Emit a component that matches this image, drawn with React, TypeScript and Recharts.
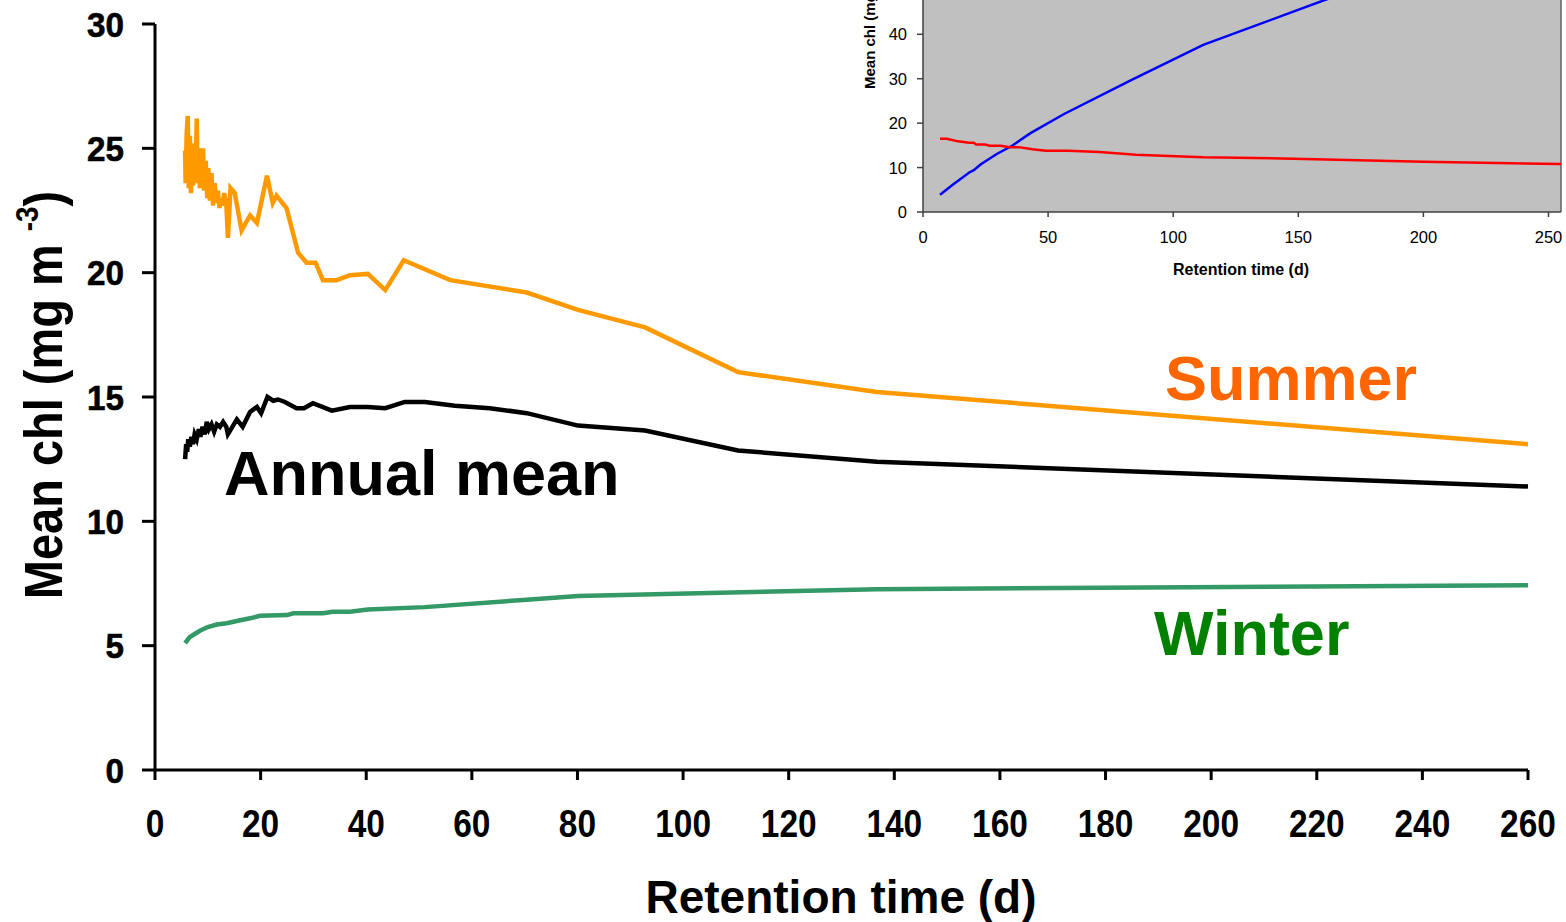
import { CartesianGrid, Line, LineChart, ReferenceLine, XAxis, YAxis } from 'recharts';

// main chart: mean chl vs retention time (x = days, y = mg m-3)
const summer = [
  [5.7, 24.9], [5.8, 23.6], [6.0, 25.6], [6.2, 26.3], [6.4, 23.4], [6.6, 25.5], [6.8, 23.2],
  [7.0, 24.6], [7.2, 23.5], [7.5, 25.2], [7.7, 24.0], [7.9, 26.2], [8.1, 23.6], [8.3, 25.0],
  [8.5, 23.4], [8.7, 24.8], [8.9, 23.8], [9.1, 25.0], [9.3, 23.3], [9.6, 24.5], [9.9, 23.0],
  [10.1, 24.2], [10.4, 22.9], [10.7, 24.0], [11.0, 22.7], [11.3, 23.6], [11.6, 22.8], [11.9, 23.3],
  [12.2, 22.6], [12.5, 23.0], [12.8, 22.7], [13.1, 23.2], [13.5, 22.8], [13.8, 21.4], [14.3, 23.4],
  [15.1, 23.2], [16.4, 21.7], [18.0, 22.3], [19.3, 22.0], [21.2, 23.9], [22.3, 22.8], [23.0, 23.1],
  [24.9, 22.6], [27.1, 20.8], [28.7, 20.4], [30.4, 20.4], [31.8, 19.7], [34.4, 19.7], [36.9, 19.9],
  [40.3, 19.95], [43.6, 19.3], [47.1, 20.5], [55.9, 19.7], [70.4, 19.2], [80.1, 18.5], [92.8, 17.8],
  [110.4, 16.0], [136.7, 15.2], [260, 13.1],
].map(([x, y]) => ({ x, y }));

const annual = [
  [5.7, 12.5], [5.9, 13.1], [6.1, 12.8], [6.3, 13.3], [6.6, 13.0], [6.9, 13.4], [7.2, 13.1],
  [7.5, 13.5], [7.9, 13.3], [8.3, 13.7], [8.6, 13.4], [9.0, 13.8], [9.4, 13.5], [9.8, 14.0],
  [10.2, 13.7], [10.7, 13.9], [11.2, 13.6], [11.7, 13.9], [12.3, 13.8], [12.9, 14.0], [13.5, 13.8],
  [13.8, 13.5], [15.5, 14.1], [16.6, 13.8], [18.0, 14.4], [19.3, 14.6], [20.1, 14.35], [21.3, 15.0],
  [22.4, 14.85], [23.3, 14.9], [24.6, 14.8], [26.8, 14.55], [28.2, 14.55], [29.9, 14.75],
  [33.5, 14.45], [36.9, 14.6], [40.3, 14.6], [43.6, 14.55], [47.3, 14.8], [51.1, 14.8],
  [56.8, 14.65], [63.4, 14.55], [70.4, 14.35], [80.1, 13.85], [92.8, 13.65], [110.4, 12.85],
  [136.7, 12.4], [260, 11.4],
].map(([x, y]) => ({ x, y }));

const winter = [
  [5.7, 5.1], [6.6, 5.35], [8.5, 5.6], [10.0, 5.75], [11.7, 5.85], [13.6, 5.9], [15.7, 6.0],
  [18.0, 6.1], [19.9, 6.2], [25.0, 6.23], [26.2, 6.3], [31.8, 6.3], [33.7, 6.36], [36.9, 6.36],
  [40.3, 6.45], [51.1, 6.55], [70.4, 6.85], [80.1, 7.0], [136.7, 7.27], [260, 7.43],
].map(([x, y]) => ({ x, y }));

// inset (top cut off in the original)
const insetBlue = [
  [6.8, 3.9], [12, 6.2], [18.5, 8.9], [20.3, 9.4], [23, 10.7], [29.3, 13.0], [35.6, 14.9],
  [42.8, 17.7], [56.2, 22.0], [83.2, 29.7], [112, 37.6], [160.5, 47.7], [200, 55], [255, 64],
].map(([x, y]) => ({ x, y }));

const insetRed = [
  [6.8, 16.5], [9.5, 16.5], [14, 15.9], [18.5, 15.6], [20.3, 15.6], [21.2, 15.2], [24.8, 15.2],
  [26.6, 14.9], [31.1, 14.9], [34.7, 14.6], [38.3, 14.6], [43.7, 14.1], [49, 13.8], [58, 13.8],
  [70.6, 13.5], [85, 12.9], [112, 12.3], [148, 12.0], [200, 11.3], [255, 10.8],
].map(([x, y]) => ({ x, y }));

const xTicks = [0, 20, 40, 60, 80, 100, 120, 140, 160, 180, 200, 220, 240, 260];
const yTicks = [0, 5, 10, 15, 20, 25, 30];
const insetXTicks = [0, 50, 100, 150, 200, 250];
const insetYTicks = [0, 10, 20, 30, 40];

const SANS = '"Liberation Sans", Arial, sans-serif';

function MainYTick({ x, y, payload }: any) {
  return (
    <text transform={`translate(${x},${y}) scale(0.95,1)`} textAnchor="end" dy="0.36em"
      fontFamily={SANS} fontWeight="bold" fontSize={35} fill="#000" stroke="#000" strokeWidth={0.6}>
      {payload.value}
    </text>
  );
}

function MainXTick({ x, y, payload }: any) {
  return (
    <text transform={`translate(${x},${y}) scale(0.88,1)`} textAnchor="middle" dy="0.71em"
      fontFamily={SANS} fontWeight="bold" fontSize={38} fill="#000">
      {payload.value}
    </text>
  );
}

function InsetTick({ x, y, payload, anchor }: any) {
  return (
    <text x={x} y={y} textAnchor={anchor} dy={anchor === 'middle' ? '0.71em' : '0.36em'}
      fontFamily={SANS} fontSize={16.5} fill="#000">
      {payload.value}
    </text>
  );
}

export default function App() {
  const axis = { stroke: '#000', strokeWidth: 3 };
  const insetAxis = { stroke: '#404040', strokeWidth: 1.5 };
  return (
    <div style={{ position: 'absolute', left: 0, top: 0, width: 1566, height: 922, background: '#fff', overflow: 'hidden' }}>
      <LineChart width={1566} height={922} margin={{ top: 24, right: 38, bottom: 0, left: 0 }}>
        <XAxis type="number" dataKey="x" domain={[0, 260]} ticks={xTicks} height={152}
          axisLine={axis} tickLine={axis} tickSize={10} tickMargin={30} tick={<MainXTick />} />
        <YAxis type="number" dataKey="y" domain={[0, 30]} ticks={yTicks} width={155}
          axisLine={axis} tickLine={axis} tickSize={13} tickMargin={18} tick={<MainYTick />} />
        <Line data={summer} dataKey="y" type="linear" stroke="#FF9900" strokeWidth={4.5}
          dot={false} isAnimationActive={false} />
        <Line data={annual} dataKey="y" type="linear" stroke="#000" strokeWidth={4.5}
          dot={false} isAnimationActive={false} />
        <Line data={winter} dataKey="y" type="linear" stroke="#339966" strokeWidth={4.5}
          dot={false} isAnimationActive={false} />
      </LineChart>

      <div style={{ position: 'absolute', left: 840, top: 0, width: 726, height: 300, overflow: 'hidden' }}>
        <div style={{ position: 'absolute', left: 0, top: -99 }}>
          <LineChart width={726} height={401} margin={{ top: 0, right: 5, bottom: 0, left: 0 }}>
            <CartesianGrid fill="#C0C0C0" fillOpacity={1} stroke="none" />
            <XAxis type="number" dataKey="x" domain={[0, 255]} ticks={insetXTicks} height={90}
              axisLine={insetAxis} tickLine={insetAxis} tickSize={5} tickMargin={14}
              tick={<InsetTick anchor="middle" />} />
            <YAxis type="number" dataKey="y" domain={[0, 70]} ticks={insetYTicks} width={83}
              axisLine={insetAxis} tickLine={insetAxis} tickSize={6} tickMargin={10}
              tick={<InsetTick anchor="end" />} />
            <ReferenceLine x={255} stroke="#606060" strokeWidth={1.5} />
            <Line data={insetBlue} dataKey="y" type="linear" stroke="#0000FF" strokeWidth={2.5}
              dot={false} isAnimationActive={false} />
            <Line data={insetRed} dataKey="y" type="linear" stroke="#FF0000" strokeWidth={2.5}
              dot={false} isAnimationActive={false} />
          </LineChart>
        </div>
      </div>

      <svg width={1566} height={922} style={{ position: 'absolute', left: 0, top: 0, pointerEvents: 'none' }}>
        {/* axis titles */}
        <text transform="translate(62,395) rotate(-90) scale(0.87,1)" textAnchor="middle"
          fontFamily={SANS} fontWeight="bold" fontSize={54} fill="#000">
          Mean chl (mg m <tspan fontSize={32} dy={-24}>-3</tspan><tspan dy={24}>)</tspan>
        </text>
        <text x={841} y={913} textAnchor="middle" fontFamily={SANS} fontWeight="bold" fontSize={46} fill="#000">
          Retention time (d)
        </text>
        {/* series labels */}
        <text x={1165} y={400} fontFamily={SANS} fontWeight="bold" fontSize={63} fill="#FF6600">Summer</text>
        <text x={224} y={495} fontFamily={SANS} fontWeight="bold" fontSize={63} fill="#000">Annual mean</text>
        <text x={1154} y={655} fontFamily={SANS} fontWeight="bold" fontSize={63} fill="#008000">Winter</text>
        {/* inset titles */}
        <text transform="translate(875,89) rotate(-90)" fontFamily={SANS} fontWeight="bold" fontSize={15} fill="#000">
          Mean chl (mg m-3)
        </text>
        <text x={1241} y={275} textAnchor="middle" fontFamily={SANS} fontWeight="bold" fontSize={16} fill="#000">
          Retention time (d)
        </text>
      </svg>
    </div>
  );
}
